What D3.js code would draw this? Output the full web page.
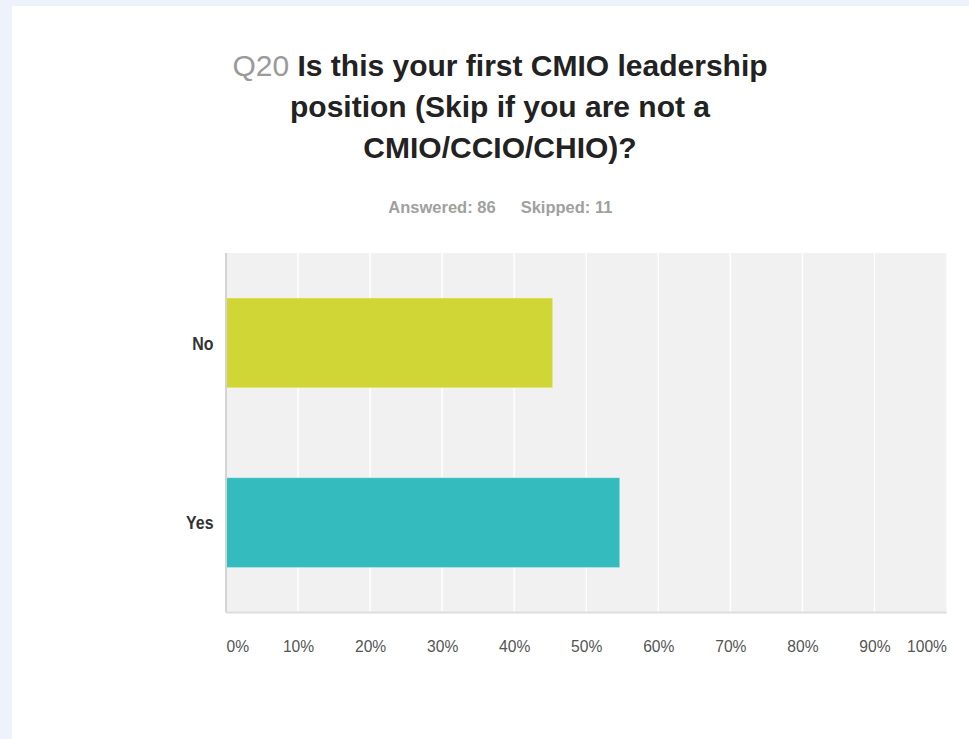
<!DOCTYPE html>
<html>
<head>
<meta charset="utf-8">
<script src="https://cdn.jsdelivr.net/npm/d3@7/dist/d3.min.js"></script>
<style>
  html, body { margin: 0; padding: 0; background: #eef3fb; }
  svg { display: block; }
</style>
</head>
<body>
<script>
// Survey question, answer choices and response shares (%)
const questionNumber = "Q20";
const titleLines = [
  "Is this your first CMIO leadership",
  "position (Skip if you are not a",
  "CMIO/CCIO/CHIO)?"
];
const answered = 86;
const skipped = 11;
const categories = ["No", "Yes"];
const values = [45.35, 54.65];
const barColors = ["#d0d635", "#33bbbe"];
const tickValues = [0, 10, 20, 30, 40, 50, 60, 70, 80, 90, 100];

const W = 969, H = 739;
const svg = d3.select("body").append("svg").attr("width", W).attr("height", H);

// white card on the pale blue page
svg.append("rect").attr("x", 12).attr("y", 6).attr("width", W - 12).attr("height", H - 6)
  .attr("fill", "#ffffff");

const font = "'Liberation Sans', Arial, Helvetica, sans-serif";

// Title
const title = svg.append("text")
  .attr("text-anchor", "middle")
  .attr("font-family", font)
  .attr("font-weight", "bold")
  .attr("font-size", 30)
  .attr("fill", "#222");
titleLines.forEach((line, i) => {
  const t = title.append("tspan").attr("x", 500).attr("y", 76 + i * 41);
  if (i === 0) {
    t.append("tspan").attr("fill", "#9a9a9a").attr("font-weight", "normal").text(questionNumber + " ");
    t.append("tspan").text(line);
  } else {
    t.text(line);
  }
});

// Answered / skipped counts
svg.append("text").attr("x", 442).attr("y", 213).attr("text-anchor", "middle")
  .attr("font-family", font).attr("font-weight", "bold").attr("font-size", 16.5)
  .attr("fill", "#a0a0a0").text("Answered: " + answered);
svg.append("text").attr("x", 566.5).attr("y", 213).attr("text-anchor", "middle")
  .attr("font-family", font).attr("font-weight", "bold").attr("font-size", 16.5)
  .attr("fill", "#a0a0a0").text("Skipped: " + skipped);

// Plot area
const plot = { left: 226, right: 946.5, top: 253, bottom: 612.5 };
const x = d3.scaleLinear().domain([0, 100]).range([plot.left, plot.right]);
const y = d3.scaleBand().domain(categories).range([plot.top, plot.bottom]).paddingInner(0.5).paddingOuter(0.25);

svg.append("rect")
  .attr("x", plot.left).attr("y", plot.top)
  .attr("width", plot.right - plot.left).attr("height", plot.bottom - plot.top)
  .attr("fill", "#f1f1f1");

// vertical gridlines
svg.append("g").selectAll("line").data(tickValues.slice(1, -1)).join("line")
  .attr("x1", d => x(d)).attr("x2", d => x(d))
  .attr("y1", plot.top).attr("y2", plot.bottom)
  .attr("stroke", "#ffffff").attr("stroke-width", 1.5);

// bars
svg.append("g").selectAll("rect").data(categories).join("rect")
  .attr("x", x(0))
  .attr("y", d => y(d))
  .attr("width", (d, i) => x(values[i]) - x(0))
  .attr("height", y.bandwidth())
  .attr("fill", (d, i) => barColors[i])
  .attr("stroke", "rgba(255,255,255,0.35)")
  .attr("stroke-width", 1);

// axis lines
svg.append("line").attr("x1", plot.left).attr("x2", plot.left)
  .attr("y1", plot.top).attr("y2", plot.bottom)
  .attr("stroke", "#d4d4d4").attr("stroke-width", 2);
svg.append("line").attr("x1", plot.left).attr("x2", plot.right)
  .attr("y1", plot.bottom).attr("y2", plot.bottom)
  .attr("stroke", "#dddddd").attr("stroke-width", 2);

// x axis tick labels (slightly narrowed glyphs)
const tickSqueeze = 0.92;
const xAxis = d3.axisBottom(x).tickValues(tickValues).tickFormat(d => d + "%").tickSize(0).tickPadding(0);
const gx = svg.append("g").attr("transform", `translate(0,${plot.bottom})`).call(xAxis);
gx.select(".domain").remove();
gx.selectAll("text")
  .attr("y", 40)
  .attr("dy", 0)
  .attr("transform", `scale(${tickSqueeze},1)`)
  .attr("font-family", font)
  .attr("font-size", 17)
  .attr("fill", "#555")
  .attr("text-anchor", d => d === 0 ? "start" : d === 100 ? "end" : "middle");

// category labels (condensed bold)
const labelSqueeze = 0.84;
const yAxis = d3.axisLeft(y).tickSize(0).tickPadding(0);
const gy = svg.append("g").attr("transform", `translate(${plot.left},0)`).call(yAxis);
gy.select(".domain").remove();
gy.selectAll("text")
  .attr("x", -12.5 / labelSqueeze)
  .attr("dy", "0.36em")
  .attr("transform", `scale(${labelSqueeze},1)`)
  .attr("font-family", font)
  .attr("font-weight", "bold")
  .attr("font-size", 19)
  .attr("fill", "#333");
</script>
</body>
</html>
